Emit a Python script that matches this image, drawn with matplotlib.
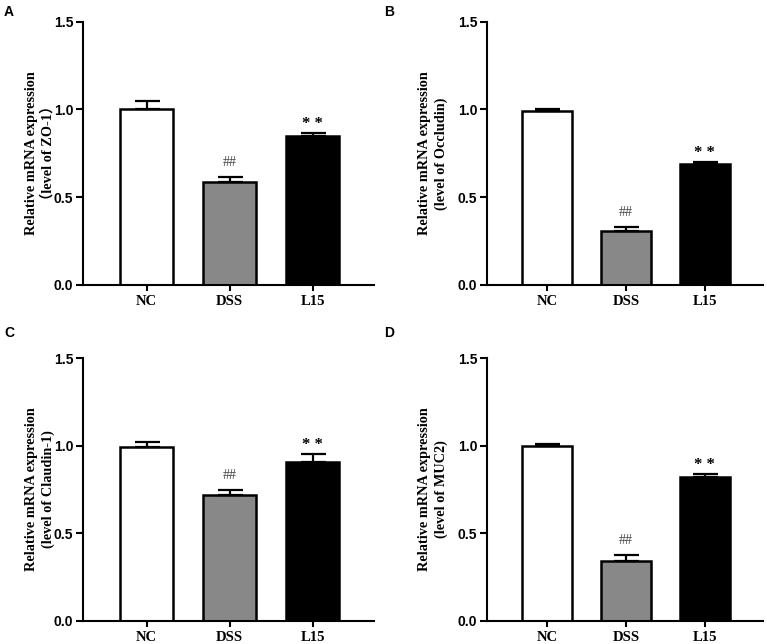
import matplotlib
matplotlib.use("Agg")
import matplotlib.pyplot as plt
import numpy as np

groups = ["NC", "DSS", "L15"]
panel_letters = ["A", "B", "C", "D"]
genes = ["（level of ZO-1）", "(level of Occludin)", "(level of Claudin-1)", "(level of MUC2)"]
means = [
    [1.00, 0.585, 0.85],
    [0.99, 0.31, 0.69],
    [0.99, 0.72, 0.905],
    [1.00, 0.343, 0.82],
]
errs = [
    [0.05, 0.03, 0.015],
    [0.012, 0.022, 0.013],
    [0.03, 0.027, 0.05],
    [0.012, 0.036, 0.02],
]
sig_dss = "##"
sig_l15 = "* *"
yticks = [0.0, 0.5, 1.0, 1.5]
colors = ["white", "#888888", "black"]

W, H = 767, 644
fig = plt.figure(figsize=(W / 100, H / 100), dpi=100)

# axes rects in pixels: left, right, top(1.5), bottom(0)
rects = [
    (83, 374, 21.7, 285),
    (487, 763, 21.7, 285),
    (83, 374, 358, 621),
    (487, 763, 358, 621),
]
letter_pos = [(4, 12), (384, 12), (4, 333), (384, 333)]
label_right_px = [55, 448, 55, 448]

serif = ["Liberation Serif", "Noto Sans CJK SC", "DejaVu Serif"]

for i in range(4):
    l, r, t, b = rects[i]
    ax = fig.add_axes([l / W, 1 - b / H, (r - l) / W, (b - t) / H])
    x = np.arange(len(groups))
    for j in range(3):
        ax.bar(x[j], means[i][j], width=0.64, color=colors[j], edgecolor="black",
               linewidth=1.8, zorder=2)
        ax.errorbar(x[j], means[i][j], yerr=[[0], [errs[i][j]]], fmt="none",
                    ecolor="black", elinewidth=1.6, capsize=9, capthick=1.6, zorder=3)
    ax.text(x[1], means[i][1] + errs[i][1] + 0.045, sig_dss, ha="center", va="bottom",
            fontsize=10, family="Liberation Serif", color="#444444")
    ax.text(x[2], means[i][2] + errs[i][2] + 0.005, sig_l15, ha="center", va="bottom",
            fontsize=12, family="Liberation Serif", fontweight="bold")
    ax.set_xlim(-0.765, 2.74)
    ax.set_ylim(0, 1.5)
    ax.set_yticks(yticks)
    ax.set_yticklabels([f"{v:.1f}" for v in yticks], fontsize=10, fontweight="bold",
                       family="Liberation Sans")
    ax.set_xticks(x)
    ax.set_xticklabels(groups, fontsize=10.5, fontweight="bold", family="Liberation Serif")
    for s in ["top", "right"]:
        ax.spines[s].set_visible(False)
    for s in ["left", "bottom"]:
        ax.spines[s].set_linewidth(1.5)
    ax.tick_params(axis="y", length=5, width=1.5, pad=2)
    ax.tick_params(axis="x", length=4, width=1.5, pad=3)
    ax.set_ylabel("Relative mRNA expression\n" + genes[i], fontsize=10.3,
                  fontweight="bold", family=serif, linespacing=1.3)
    ax.yaxis.set_label_coords((label_right_px[i] - l) / (r - l), 0.5)
    fig.text(letter_pos[i][0] / W, 1 - letter_pos[i][1] / H, panel_letters[i],
             fontsize=10, fontweight="bold", family="Liberation Sans", va="center", ha="left")

fig.savefig("out.png", dpi=100)
